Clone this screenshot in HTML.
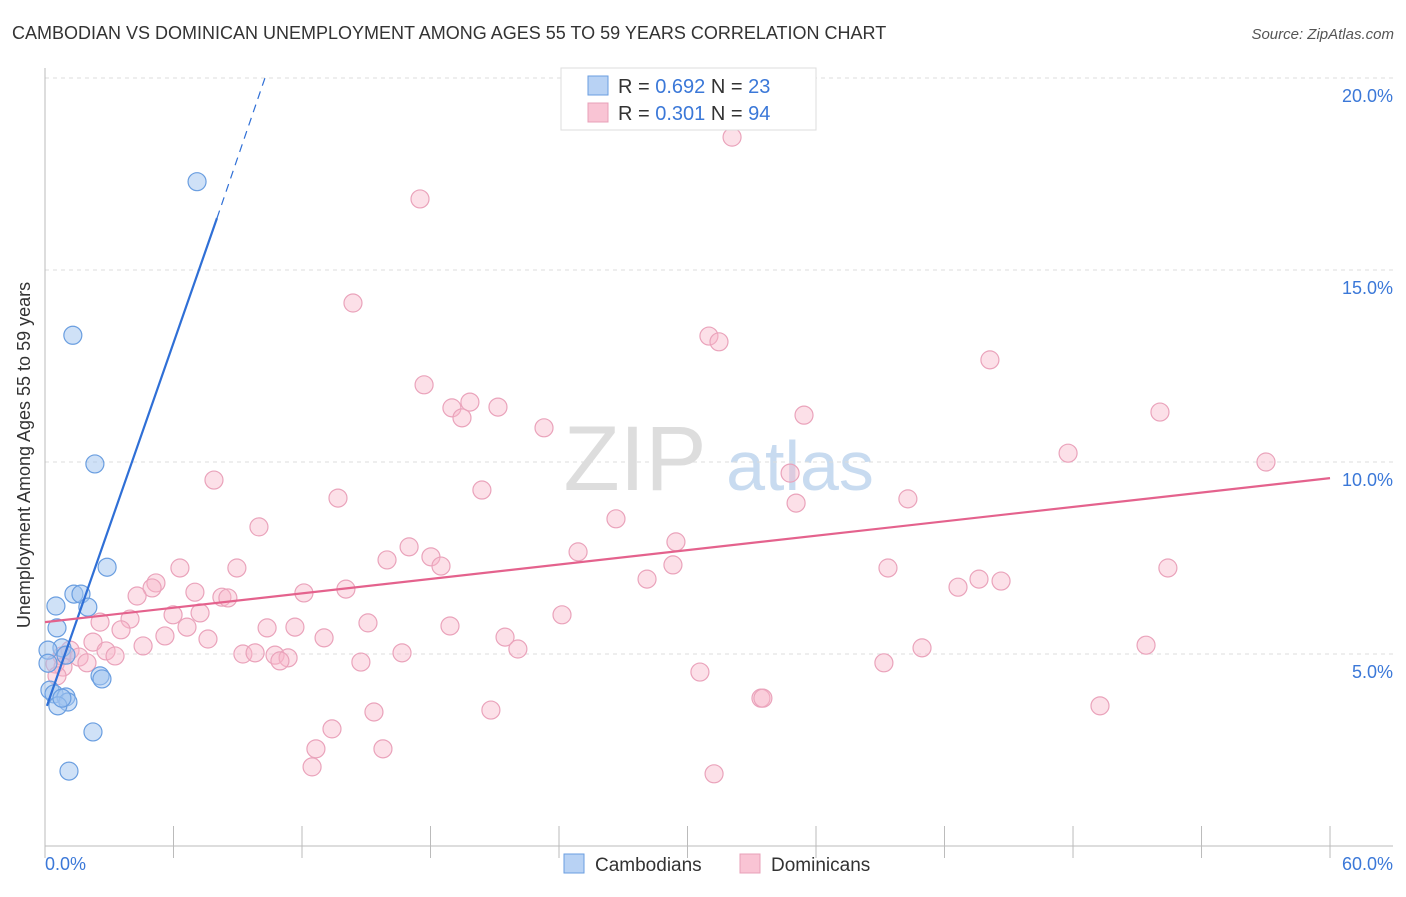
<!DOCTYPE html>
<html><head><meta charset="utf-8"><style>
body{margin:0;background:#fff;font-family:"Liberation Sans",sans-serif}
svg text{font-family:"Liberation Sans",sans-serif}
</style></head><body>
<svg width="1406" height="892" viewBox="0 0 1406 892">
<text x="12" y="39" font-size="18" fill="#333">CAMBODIAN VS DOMINICAN UNEMPLOYMENT AMONG AGES 55 TO 59 YEARS CORRELATION CHART</text>
<text x="1394" y="39" font-size="15" fill="#555" font-style="italic" text-anchor="end">Source: ZipAtlas.com</text>
<g><text x="635" y="490" font-size="92" fill="#ddd" font-family="Liberation Serif" text-anchor="middle">ZIP</text><text x="800" y="490" font-size="70" fill="#c8dbf0" text-anchor="middle">atlas</text></g>
<g id="grid"></g><g id="axes"></g><g id="pts"></g><g id="lines"></g>
<text x="30" y="455" font-size="18" fill="#333" transform="rotate(-90 30 455)" text-anchor="middle">Unemployment Among Ages 55 to 59 years</text>
<text x="45" y="870" font-size="18" fill="#3b78d8">0.0%</text>
<text x="1393" y="870" font-size="18" fill="#3b78d8" text-anchor="end">60.0%</text>
<g>
<rect x="561" y="68" width="255" height="62" fill="#fff" stroke="#ddd"/>
<rect x="588" y="76" width="20" height="19" fill="#b8d2f4" stroke="#6a9ee0"/>
<rect x="588" y="103" width="20" height="19" fill="#f9c4d4" stroke="#e8a0b8"/>
<text x="618" y="93" font-size="20" fill="#333">R = <tspan fill="#3b78d8">0.692</tspan>   N = <tspan fill="#3b78d8">23</tspan></text>
<text x="618" y="120" font-size="20" fill="#333">R = <tspan fill="#3b78d8">0.301</tspan>   N = <tspan fill="#3b78d8">94</tspan></text>
</g>
<g>
<rect x="564" y="854" width="20" height="19" fill="#b8d2f4" stroke="#6a9ee0"/>
<text x="595" y="871" font-size="19" fill="#333">Cambodians</text>
<rect x="740" y="854" width="20" height="19" fill="#f9c4d4" stroke="#e8a0b8"/>
<text x="771" y="871" font-size="19" fill="#333">Dominicans</text>
</g>
</svg>
<script>
const yTicks=[5,10,15,20];
const yTickLabels=["5.0%","10.0%","15.0%","20.0%"];
const xTicks=[0,6,12,18,24,30,36,42,48,54,60];
const cambX=[7.1,1.3,2.33,2.9,1.35,1.68,2.0,0.51,0.56,0.79,0.14,0.98,2.57,2.66,0.23,0.42,0.98,1.07,0.6,2.24,1.12,0.14,0.79];
const cambY=[17.3,13.3,9.95,7.26,6.56,6.56,6.22,6.25,5.68,5.16,5.1,4.97,4.43,4.35,4.06,3.96,3.88,3.75,3.65,2.97,1.95,4.76,3.85];
const domX=[32.08,17.51,14.38,31.0,31.47,44.12,17.7,19.0,19.84,21.15,19.47,35.44,52.06,23.3,47.77,57.01,7.89,34.79,20.4,13.68,35.07,40.29,26.66,9.99,17.0,24.89,29.46,15.97,18.02,18.49,6.3,8.96,29.32,39.36,52.43,5.18,5.0,28.11,43.61,44.64,42.63,7.0,4.3,8.26,8.54,12.09,14.05,7.24,5.98,24.14,3.97,2.57,15.08,18.91,6.63,10.37,11.67,3.55,5.6,7.61,13.03,21.48,2.24,22.08,40.95,51.41,4.58,1.17,2.85,3.27,9.24,9.81,10.74,11.35,16.67,0.79,1.59,10.97,14.75,39.17,1.96,0.47,0.84,0.56,30.58,33.43,33.52,49.26,20.82,15.36,13.4,12.65,15.78,12.47,31.24];
const domY=[18.46,16.85,14.14,13.28,13.13,12.66,12.01,11.41,11.56,11.43,11.15,11.22,11.3,10.89,10.23,10.0,9.53,9.71,9.27,9.06,8.93,9.04,8.52,8.31,7.79,7.66,7.92,7.45,7.53,7.29,7.24,7.24,7.32,7.24,7.24,6.85,6.72,6.95,6.95,6.9,6.74,6.61,6.51,6.48,6.46,6.59,6.69,6.07,6.02,6.02,5.91,5.83,5.81,5.73,5.7,5.68,5.7,5.63,5.47,5.39,5.42,5.44,5.31,5.13,5.16,5.23,5.21,5.1,5.08,4.95,5.0,5.03,4.97,4.9,5.03,4.95,4.92,4.82,4.79,4.77,4.77,4.74,4.66,4.43,4.53,3.85,3.85,3.65,3.54,3.49,3.05,2.53,2.53,2.06,1.88];
const cambLine=[[0.09,3.65],[8.03,16.35]];
const cambDash=[[8.03,16.35],[10.27,20]];
const domLine=[[0,5.83],[60,9.58]];
const X=v=>45+v*21.417, Y=v=>846-v*38.4;
const NS="http://www.w3.org/2000/svg";
function mk(tag,attrs,parent){const e=document.createElementNS(NS,tag);for(const k in attrs)e.setAttribute(k,attrs[k]);document.getElementById(parent).appendChild(e);return e;}
yTicks.forEach((t,i)=>{
 const l=mk('line',{x1:45,x2:1393,y1:Y(t),y2:Y(t),stroke:'#ddd','stroke-dasharray':'4,4'},'grid');
 
 
 const tx=mk('text',{x:1393,y:Y(t)+24,'font-size':18,fill:'#3b78d8','text-anchor':'end'},'grid');
 tx.textContent=yTickLabels[i];
 
 
});
const ax=mk('line',{x1:45,x2:1393,y1:846,y2:846,stroke:'#bbb'},'axes');


const ay=mk('line',{x1:45,x2:45,y1:68,y2:846,stroke:'#bbb'},'axes');


xTicks.forEach(t=>{
 const l=mk('line',{x1:X(t),x2:X(t),y1:826,y2:858,stroke:'#bbb'},'axes');
 
 
});
domX.forEach((v,i)=>{
 const c=mk('circle',{cx:X(v),cy:Y(domY[i]),r:9,fill:'rgba(248,180,200,0.42)',stroke:'#eaa3bb','stroke-width':1.2},'pts');
 
 
});
cambX.forEach((v,i)=>{
 const c=mk('circle',{cx:X(v),cy:Y(cambY[i]),r:9,fill:'rgba(160,196,240,0.5)',stroke:'#6a9ee0','stroke-width':1.2},'pts');
 
 
});
const l1=mk('line',{x1:X(cambLine[0][0]),y1:Y(cambLine[0][1]),x2:X(cambLine[1][0]),y2:Y(cambLine[1][1]),stroke:'#2f6fd6','stroke-width':2.2},'lines');


const l2=mk('line',{x1:X(cambDash[0][0]),y1:Y(cambDash[0][1]),x2:X(cambDash[1][0]),y2:Y(cambDash[1][1]),stroke:'#2f6fd6','stroke-width':1.2,'stroke-dasharray':'8,6'},'lines');


const l3=mk('line',{x1:X(domLine[0][0]),y1:Y(domLine[0][1]),x2:X(domLine[1][0]),y2:Y(domLine[1][1]),stroke:'#e4628d','stroke-width':2.2},'lines');


</script>
</body></html>
